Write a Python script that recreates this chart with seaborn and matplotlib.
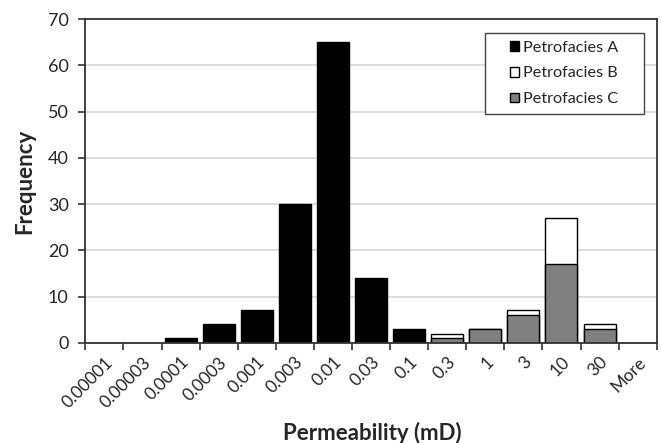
import numpy as np
import pandas as pd
import matplotlib
matplotlib.use("Agg")
import matplotlib.pyplot as plt
import seaborn as sns
from matplotlib.patches import Patch, Rectangle

bins = ["0.00001", "0.00003", "0.0001", "0.0003", "0.001", "0.003", "0.01",
        "0.03", "0.1", "0.3", "1", "3", "10", "30", "More"]
petro_a = [0, 0, 1, 4, 7, 30, 65, 14, 3, 0, 0, 0, 0, 0, 0]
petro_b = [0, 0, 0, 0, 0, 0, 0, 0, 0, 1, 0, 1, 10, 1, 0]
petro_c = [0, 0, 0, 0, 0, 0, 0, 0, 0, 1, 3, 6, 17, 3, 0]

df = pd.DataFrame({"bin": bins, "A": petro_a, "B": petro_b, "C": petro_c})
df["BC"] = df["B"] + df["C"]

sns.set_theme(style="white")
plt.rcParams["font.family"] = ["Lato", "DejaVu Sans"]

fig, ax = plt.subplots(figsize=(6.62, 4.43), dpi=100)
fig.subplots_adjust(left=0.129, right=0.992, top=0.957, bottom=0.226)

ax.set_axisbelow(True)
ax.yaxis.grid(True, color="#d6d6d6", linewidth=1.2)

bar_kw = dict(width=0.84, edgecolor="black", linewidth=1.0, order=bins)
# B stacked on C: draw total in white, then C over it
sns.barplot(data=df, x="bin", y="BC", color="white", ax=ax, **bar_kw)
sns.barplot(data=df, x="bin", y="C", color="#808080", saturation=1, ax=ax, **bar_kw)
sns.barplot(data=df, x="bin", y="A", color="black", saturation=1, ax=ax, **bar_kw)

for p in ax.patches:
    if p.get_height() == 0:
        p.set_linewidth(0)

ax.set_xlim(-0.5, len(bins) - 0.5)
ax.set_ylim(0, 70)
ax.set_yticks(range(0, 71, 10))
ax.tick_params(axis="y", labelsize=13, length=5, width=1.2, color="#333333", pad=7, left=True)

ax.set_xticks(np.arange(len(bins)))
ax.set_xticklabels(bins, rotation=45, ha="right", rotation_mode="anchor", fontsize=12.5)
ax.tick_params(axis="x", which="major", length=0, pad=8)
ax.set_xticks(np.arange(len(bins) + 1) - 0.5, minor=True)
ax.tick_params(axis="x", which="minor", length=5, width=1.2, color="#333333", bottom=True)

for s in ax.spines.values():
    s.set_color("#333333")
    s.set_linewidth(1.3)

ax.set_xlabel("Permeability (mD)", fontsize=16, fontweight="bold")
ax.xaxis.set_label_coords(0.502, -0.245)
ax.set_ylabel("Frequency", fontsize=16, fontweight="bold", labelpad=9)

handles = [Patch(facecolor=c, edgecolor="black", linewidth=1) for c in ["black", "white", "#808080"]]
leg = ax.legend(handles, ["Petrofacies A", "Petrofacies B", "Petrofacies C"],
                loc="center", bbox_to_anchor=(0.838, 0.832), fontsize=11.7,
                frameon=False, handlelength=0.55, handleheight=0.55, handletextpad=0.25,
                borderpad=0.2, labelspacing=0.72)
ax.add_patch(Rectangle((0.699, 0.707), 0.278, 0.25, transform=ax.transAxes,
                       facecolor="white", edgecolor="#444444", linewidth=1.0, zorder=4))
leg.set_zorder(5)

fig.savefig("out.png", dpi=100)
